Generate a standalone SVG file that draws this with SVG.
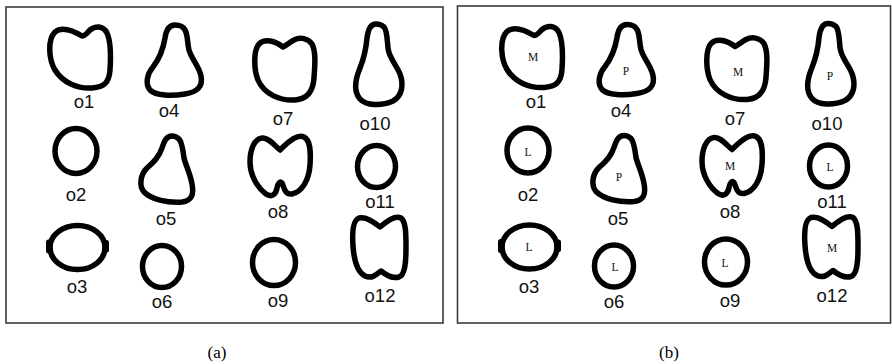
<svg xmlns="http://www.w3.org/2000/svg" width="892" height="364" viewBox="0 0 892 364">
<style>
.frame{fill:#fff;stroke:#3a3a3a;stroke-width:1.6}
.sh{fill:none;stroke:#000;stroke-width:5.5;stroke-linejoin:round}
.tab{fill:#000}
.lbl{font-family:"Liberation Sans",Arial,sans-serif;font-size:18.5px;fill:#111;text-anchor:middle}
.cls{font-family:"Liberation Serif","Times New Roman",serif;font-size:11.5px;fill:#111;text-anchor:middle;dominant-baseline:central}
.cap{font-family:"Liberation Serif","Times New Roman",serif;font-size:17px;fill:#000;text-anchor:middle}
</style>
<defs>
<g id="shapes">
<g id="s-o1"><path class="sh" d="M82,36 C72,30 62,26 55,32 C47,40 49,60 55,70 C63,83 78,89 92,88 C104,87 109,83 110,70 C111,55 111,42 107,33 C103,25 95,26 90,30 C87,33 85,36 82,36 Z"/></g>
<g id="s-o4"><path class="sh" d="M175,25 C168,25 166,31 165,38 C163,50 160,58 153,67 C147,74 145,84 150,90 C156,96 172,96 185,94 C198,92 203,86 201,76 C199,66 192,60 189,50 C187,42 188,35 185,30 C183,26 179,25 175,25 Z"/></g>
<g id="s-o7"><path class="sh" d="M283,47 C275,41 265,38 259,44 C253,51 254,70 258,80 C264,94 280,101 295,100 C307,99 313,92 314,78 C315,64 316,52 312,44 C308,38 300,37 294,40 C290,42 287,45 283,47 Z"/></g>
<g id="s-o10"><path class="sh" d="M376,24 C370,24 368,30 367,38 C366,50 364,58 360,68 C355,80 354,92 360,99 C366,106 382,106 393,101 C402,96 404,85 400,74 C396,64 389,58 388,48 C387,38 387,30 384,27 C382,25 379,24 376,24 Z"/></g>
<g id="s-o2"><ellipse class="sh" cx="76" cy="151" rx="21" ry="22.5"/></g>
<g id="s-o5"><path class="sh" d="M172,136 C166,136 164,142 162,148 C159,157 154,162 147,168 C140,175 139,186 144,192 C152,200 168,203 182,202 C192,201 194,194 192,184 C190,173 186,166 184,158 C183,150 182,142 179,139 C177,137 175,136 172,136 Z"/></g>
<g id="s-o8"><path class="sh" d="M280,150 C274,145 268,137 262,138 C254,139 250,150 250,162 C250,176 258,188 266,194 C272,198 276,194 277,188 C278,183 280,181 282,183 C284,186 284,195 292,194 C302,192 309,180 310,165 C311,150 310,140 304,137 C298,134 290,140 280,150 Z"/></g>
<g id="s-o11"><ellipse class="sh" cx="376.5" cy="166.5" rx="19" ry="21"/></g>
<g id="s-o3"><ellipse class="sh" cx="77.5" cy="247.5" rx="27.5" ry="22"/><rect class="tab" x="46" y="239.5" width="6.5" height="14" rx="2.5"/><rect class="tab" x="102.5" y="240" width="6.5" height="12.5" rx="2.5"/></g>
<g id="s-o6"><ellipse class="sh" cx="162" cy="266.5" rx="19.5" ry="21"/></g>
<g id="s-o9"><ellipse class="sh" cx="274" cy="262.5" rx="21.5" ry="23"/></g>
<g id="s-o12"><path class="sh" d="M380,227 C374,222 366,216 359,218 C353,220 352,232 353,246 C354,260 357,272 365,276 C372,279 376,275 381,271 C386,275 392,279 399,277 C405,275 406,262 406,248 C406,234 406,222 401,218 C395,215 387,221 380,227 Z"/></g>
<text class="lbl" x="84" y="108">o1</text>
<text class="lbl" x="169" y="117">o4</text>
<text class="lbl" x="283" y="125">o7</text>
<text class="lbl" x="375" y="130">o10</text>
<text class="lbl" x="76" y="201">o2</text>
<text class="lbl" x="166" y="225">o5</text>
<text class="lbl" x="278" y="218">o8</text>
<text class="lbl" x="380" y="208">o11</text>
<text class="lbl" x="77" y="293">o3</text>
<text class="lbl" x="162" y="308">o6</text>
<text class="lbl" x="278" y="307">o9</text>
<text class="lbl" x="380" y="302">o12</text>
</g>
</defs>
<g id="panel-a">
<rect class="frame" x="6" y="7" width="437" height="316"/>
<use href="#shapes"/>
<text class="cap" x="217" y="358">(a)</text>
</g>
<g id="panel-b">
<rect class="frame" x="457.5" y="6" width="433" height="317"/>
<use href="#shapes" transform="translate(452,-0.5)"/>
<g id="classes">
<text class="cls" x="533" y="57">M</text>
<text class="cls" x="626" y="71">P</text>
<text class="cls" x="738" y="72">M</text>
<text class="cls" x="830" y="76">P</text>
<text class="cls" x="528" y="152">L</text>
<text class="cls" x="619" y="177">P</text>
<text class="cls" x="730" y="166">M</text>
<text class="cls" x="830" y="167">L</text>
<text class="cls" x="529" y="247">L</text>
<text class="cls" x="615" y="267">L</text>
<text class="cls" x="725" y="263">L</text>
<text class="cls" x="832" y="248">M</text>
</g>
<text class="cap" x="669" y="358">(b)</text>
</g>
<g id="connectors"/>
</svg>
